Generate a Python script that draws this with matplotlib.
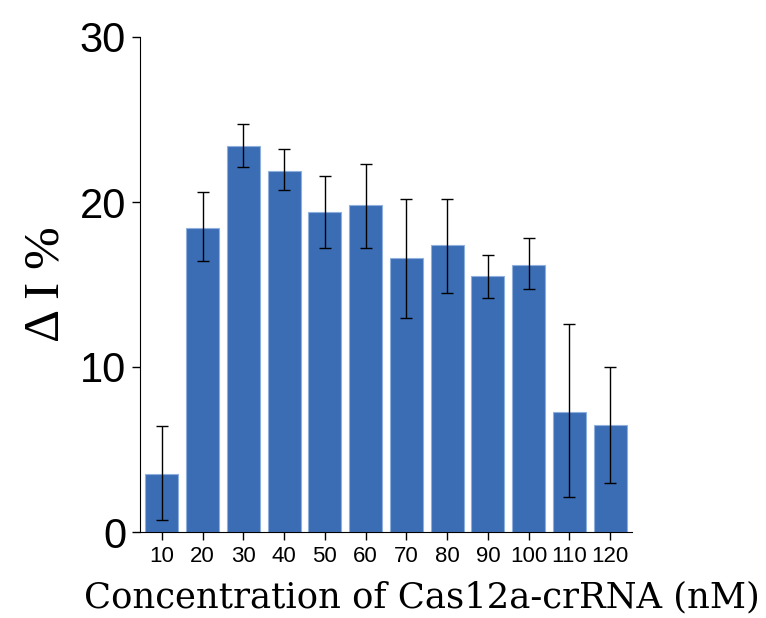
import matplotlib.pyplot as plt

# concentrations (nM) and measured response
conc = ['10', '20', '30', '40', '50', '60', '70', '80', '90', '100', '110', '120']
delta_i = [3.5, 18.4, 23.4, 21.9, 19.4, 19.8, 16.6, 17.4, 15.5, 16.2, 7.3, 6.5]
err_hi = [6.4, 20.6, 24.7, 23.2, 21.6, 22.3, 20.2, 20.2, 16.8, 17.8, 12.6, 10.0]
err_lo = [0.7, 16.4, 22.1, 20.7, 17.2, 17.2, 13.0, 14.5, 14.2, 14.7, 2.1, 3.0]

lower = [v - lo for v, lo in zip(delta_i, err_lo)]
upper = [hi - v for v, hi in zip(delta_i, err_hi)]

fig = plt.figure(figsize=(7.66, 6.18), dpi=100)
ax = fig.add_axes([140 / 766, 1 - 532 / 618, 492 / 766, 495 / 618])

x = list(range(len(conc)))
ax.bar(x, delta_i, width=0.81, color='#3b6db5', edgecolor='#8fb0dd', linewidth=0.8)
ax.errorbar(x, delta_i, yerr=[lower, upper], fmt='none', ecolor='black',
            elinewidth=1, capsize=4, capthick=1)

ax.set_xlim(-0.54, 11.54)
ax.set_ylim(0, 30)
ax.set_yticks([0, 10, 20, 30])
ax.set_xticks(x)
ax.set_xticklabels(conc, fontsize=16, family='Liberation Sans')
for lab in ax.get_yticklabels():
    lab.set_fontsize(30)
    lab.set_family('Liberation Sans')

ax.spines['top'].set_visible(False)
ax.spines['right'].set_visible(False)
ax.tick_params(direction='out', length=6, width=1, pad=4)

ax.set_ylabel('Δ I %', fontsize=37, family='Liberation Serif')
ax.yaxis.set_label_coords(-0.143, 0.5)
ax.set_xlabel('Concentration of Cas12a-crRNA (nM)', fontsize=25.5,
              family='DejaVu Serif')
ax.xaxis.set_label_coords(0.572, -0.097)

fig.savefig('out.png', dpi=100)
